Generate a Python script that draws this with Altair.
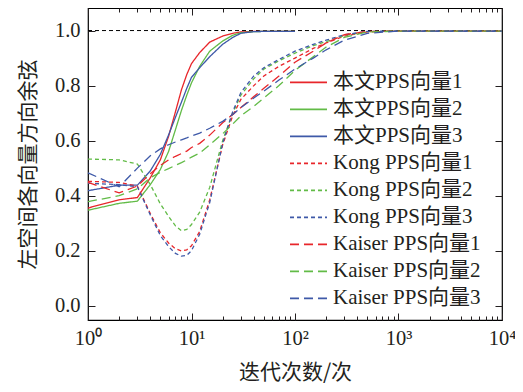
import altair as alt
import pandas as pd

# ---------------- data ----------------
iters_ours = [1, 2, 3, 4, 5, 6, 7, 8, 9, 10, 12, 15, 20, 25, 30, 40, 50, 70, 100]
iters_cmp = [1, 2, 3, 4, 5, 6, 7, 8, 9, 10, 12, 15, 20, 25, 30, 40, 50, 70, 100,
             150, 200, 300, 500, 1000, 10000]

ours_1 = [0.355, 0.385, 0.393, 0.465, 0.53, 0.615, 0.705, 0.785, 0.84, 0.88, 0.92,
          0.958, 0.98, 0.99, 0.995, 0.997, 0.997, 0.997, 0.997]
ours_2 = [0.347, 0.372, 0.38, 0.44, 0.495, 0.56, 0.64, 0.71, 0.765, 0.81, 0.87,
          0.925, 0.962, 0.983, 0.992, 0.996, 0.997, 0.997, 0.997]
ours_3 = [0.418, 0.438, 0.438, 0.49, 0.55, 0.62, 0.685, 0.74, 0.79, 0.83, 0.865,
          0.905, 0.95, 0.975, 0.99, 0.996, 0.997, 0.997, 0.997]

kong_1 = [0.452, 0.448, 0.435, 0.335, 0.265, 0.228, 0.207, 0.199, 0.203, 0.218, 0.27,
          0.385, 0.585, 0.69, 0.75, 0.80, 0.835, 0.87, 0.90, 0.935, 0.955, 0.98,
          0.995, 0.998, 0.998]
kong_2 = [0.533, 0.53, 0.515, 0.44, 0.37, 0.325, 0.29, 0.272, 0.277, 0.295, 0.34,
          0.43, 0.60, 0.70, 0.765, 0.825, 0.86, 0.89, 0.918, 0.945, 0.96, 0.982,
          0.996, 0.998, 0.998]
kong_3 = [0.445, 0.44, 0.432, 0.33, 0.255, 0.215, 0.19, 0.18, 0.183, 0.20, 0.26,
          0.375, 0.59, 0.705, 0.775, 0.835, 0.865, 0.895, 0.925, 0.95, 0.965, 0.985,
          0.997, 0.998, 0.998]

kaiser_1 = [0.448, 0.41, 0.435, 0.48, 0.51, 0.53, 0.543, 0.553, 0.562, 0.575, 0.59,
            0.62, 0.665, 0.695, 0.72, 0.76, 0.79, 0.835, 0.885, 0.925, 0.955, 0.985,
            0.997, 0.998, 0.998]
kaiser_2 = [0.378, 0.40, 0.425, 0.465, 0.485, 0.498, 0.51, 0.52, 0.53, 0.54, 0.555,
            0.585, 0.625, 0.66, 0.69, 0.725, 0.755, 0.80, 0.855, 0.905, 0.94, 0.975,
            0.995, 0.998, 0.998]
kaiser_3 = [0.483, 0.432, 0.50, 0.545, 0.57, 0.585, 0.595, 0.603, 0.61, 0.617, 0.627,
            0.645, 0.67, 0.695, 0.72, 0.755, 0.78, 0.82, 0.86, 0.90, 0.93, 0.965,
            0.99, 0.998, 0.998]

series_names = ["本文PPS向量1", "本文PPS向量2", "本文PPS向量3",
                "Kong PPS向量1", "Kong PPS向量2", "Kong PPS向量3",
                "Kaiser PPS向量1", "Kaiser PPS向量2", "Kaiser PPS向量3"]
series_colors = ["#e8262b", "#62bb47", "#3e59a8"] * 3
series_dashes = [[1, 0]] * 3 + [[4, 3]] * 3 + [[9, 5]] * 3

ref_iters = [1, 10000]
ref_values = [1.0, 1.0]

major_ticks = [1, 10, 100, 1000, 10000]
major_labels = ["10⁰", "10¹", "10²", "10³", "10⁴"]
minor_ticks = [m * d for d in [1, 10, 100, 1000] for m in range(2, 10)]
y_ticks = [0.0, 0.2, 0.4, 0.6, 0.8, 1.0]


def long_df(iters, groups):
    rows = []
    for name, vals in groups:
        for it, v in zip(iters, vals):
            rows.append({"iter": it, "value": v, "series": name})
    return pd.DataFrame(rows)


df_ours = long_df(iters_ours, [(series_names[0], ours_1), (series_names[1], ours_2),
                               (series_names[2], ours_3)])
df_kong = long_df(iters_cmp, [(series_names[3], kong_1), (series_names[4], kong_2),
                              (series_names[5], kong_3)])
df_kaiser = long_df(iters_cmp, [(series_names[6], kaiser_1), (series_names[7], kaiser_2),
                                (series_names[8], kaiser_3)])
df_ref = pd.DataFrame({"iter": ref_iters, "value": ref_values})

# ---------------- styling ----------------
SERIF = "Liberation Serif, Times New Roman, Noto Sans CJK SC"
CJK = "Noto Sans CJK SC"
INK = "#231f20"
MAJ = 7
MIN = 4

xs = alt.Scale(type="log", domain=[1, 10000], nice=False)
ys = alt.Scale(domain=[-0.052, 1.082], nice=False, zero=False)

label_expr = "[" + ",".join("'%s'" % l for l in major_labels) + "][round(log(datum.value)/LN10)]"

ax_bottom_major = alt.Axis(orient="bottom", values=major_ticks, labelExpr=label_expr,
                           tickSize=MAJ, offset=-MAJ, domain=False, grid=False,
                           labelPadding=8, labelFont=SERIF, labelFontSize=20.5,
                           labelColor=INK, tickColor=INK, labelFlush=False,
                           labelOverlap=False,
                           title="迭代次数/次", titleFont=CJK, titleFontSize=21,
                           titleFontWeight="normal", titleColor=INK, titlePadding=13)
ax_bottom_minor = alt.Axis(orient="bottom", values=minor_ticks, labels=False,
                           tickSize=MIN, offset=-MIN, domain=False, grid=False,
                           tickColor=INK, title=None)
ax_top_major = alt.Axis(orient="top", values=major_ticks, labels=False,
                        tickSize=MAJ, offset=-MAJ, domain=False, grid=False,
                        tickColor=INK, title=None)
ax_top_minor = alt.Axis(orient="top", values=minor_ticks, labels=False,
                        tickSize=MIN, offset=-MIN, domain=False, grid=False,
                        tickColor=INK, title=None)
ax_left = alt.Axis(orient="left", values=y_ticks, format=".1f",
                   tickSize=MAJ, offset=-MAJ, domain=False, grid=False,
                   labelPadding=8, labelFont=SERIF, labelFontSize=20.5,
                   labelColor=INK, tickColor=INK, labelFlush=False,
                   title="左空间各向量方向余弦", titleFont=CJK, titleFontSize=21,
                   titleFontWeight="normal", titleColor=INK, titlePadding=16)
ax_right = alt.Axis(orient="right", values=y_ticks, labels=False,
                    tickSize=MAJ, offset=-MAJ, domain=False, grid=False,
                    tickColor=INK, title=None)

legend = alt.Legend(orient="none", legendX=201, legendY=61, title=None,
                    symbolType="stroke", symbolSize=1369, symbolStrokeWidth=1.6,
                    labelFont=SERIF, labelFontSize=21, labelColor=INK,
                    labelOffset=5, clipHeight=26.8, rowPadding=0, padding=0,
                    labelLimit=300)

color_enc = alt.Color("series:N", scale=alt.Scale(domain=series_names, range=series_colors),
                      legend=legend)
dash_enc = alt.StrokeDash("series:N", scale=alt.Scale(domain=series_names, range=series_dashes),
                          legend=legend)

ref = alt.Chart(df_ref).mark_line(color="black", strokeDash=[4, 3], strokeWidth=1).encode(
    x=alt.X("iter:Q", scale=xs, axis=ax_bottom_major),
    y=alt.Y("value:Q", scale=ys, axis=ax_left),
)

ours = alt.Chart(df_ours).mark_line(strokeWidth=1.3).encode(
    x=alt.X("iter:Q", scale=xs, axis=ax_bottom_minor),
    y=alt.Y("value:Q", scale=ys, axis=ax_right),
    color=color_enc, strokeDash=dash_enc,
)

kong = alt.Chart(df_kong).mark_line(strokeWidth=1.3).encode(
    x=alt.X("iter:Q", scale=xs, axis=ax_top_major),
    y=alt.Y("value:Q", scale=ys, axis=None),
    color=color_enc, strokeDash=dash_enc,
)

kaiser = alt.Chart(df_kaiser).mark_line(strokeWidth=1.3).encode(
    x=alt.X("iter:Q", scale=xs, axis=ax_top_minor),
    y=alt.Y("value:Q", scale=ys, axis=None),
    color=color_enc, strokeDash=dash_enc,
)

chart = alt.layer(ref, ours, kong, kaiser).resolve_axis(
    x="independent", y="independent"
).properties(
    width=414, height=312,
    autosize=alt.AutoSizeParams(type="none"),
    padding={"left": 80, "top": 0, "right": 13, "bottom": 64},
    background="white",
).configure_view(stroke="black", strokeWidth=1.2)

chart.save("out.html", embed_options={"renderer": "svg", "actions": False})
